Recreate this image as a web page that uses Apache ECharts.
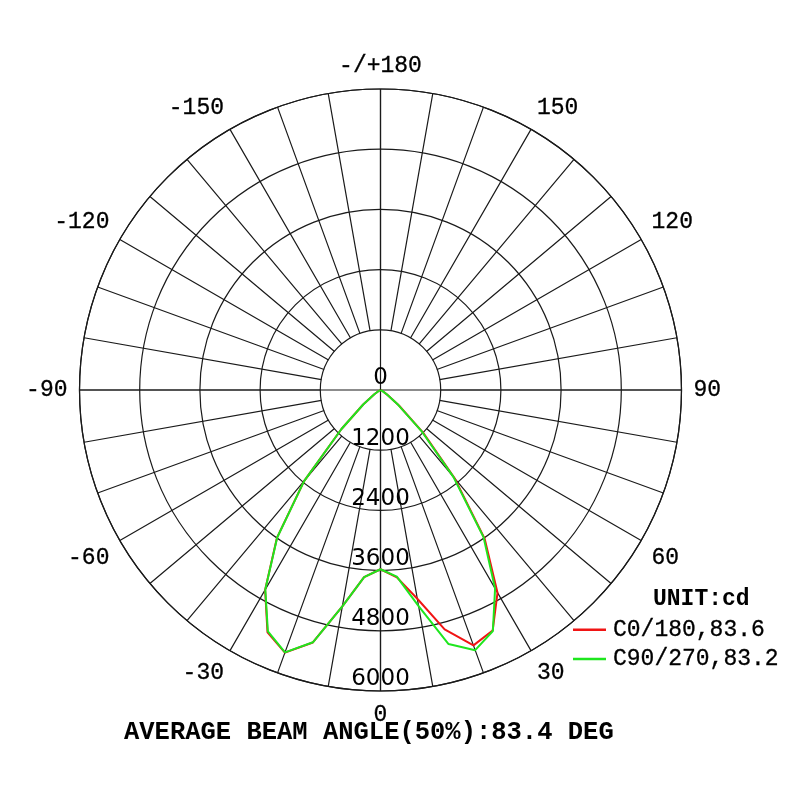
<!DOCTYPE html>
<html>
<head>
<meta charset="utf-8">
<script src="https://cdn.jsdelivr.net/npm/echarts@6/dist/echarts.min.js"></script>
<style>html,body{margin:0;padding:0;background:#fff}#c{width:800px;height:800px}</style>
</head>
<body>
<div id="c"></div>
<script>
// gamma angles (deg from nadir)
const gammaAngles = [0, 5, 10, 15, 20, 25, 30, 35, 40, 45, 50, 55, 60, 65, 70, 75, 80, 85, 90];
// intensities (cd)
const c0   = [3573, 3749, 4226, 4939, 5418, 5290, 4665, 3620, 2300, 1200, 480, 160, 60, 25, 10, 5, 2, 1, 0];
const c180 = [3573, 3746, 4380, 5210, 5570, 5330, 4600, 3600, 2370, 1100, 450, 150, 50, 20, 10, 5, 2, 1, 0];
const c90  = [3573, 3733, 4373, 5242, 5519, 5300, 4568, 3580, 2260, 1150, 460, 150, 55, 20, 10, 5, 2, 1, 0];
const c270 = [3573, 3746, 4380, 5206, 5566, 5311, 4593, 3590, 2370, 1100, 450, 150, 50, 20, 10, 5, 2, 1, 0];
// radial scale
const radialMin = 0, radialMax = 6000, radialStep = 1200;
// names / texts
const seriesNames = ['C0/180,83.6', 'C90/270,83.2'];
const unitText = 'UNIT:cd';
const beamTitle = 'AVERAGE BEAM ANGLE(50%):83.4 DEG';

// left half (C180 / C270) drawn at 360 - gamma, right half (C0 / C90) at gamma
function planeData(leftVals, rightVals) {
  const out = [];
  for (let i = gammaAngles.length - 1; i >= 0; i--) out.push([leftVals[i], 360 - gammaAngles[i]]);
  for (let i = 0; i < gammaAngles.length; i++) out.push([rightVals[i], gammaAngles[i]]);
  return out;
}

const CX = 380.5, CY = 390, R = 301;
const mono = "'Liberation Mono', 'DejaVu Sans Mono', monospace";
const gridLine = { color: '#1a1a1a', width: 1.2 };
const angleBase = { type: 'value', min: 0, max: 360, startAngle: 270, clockwise: false };

const chart = echarts.init(document.getElementById('c'), null, { renderer: 'canvas' });
chart.setOption({
  animation: false,
  backgroundColor: '#fff',
  title: [
    { text: unitText, left: 653, top: 588, padding: 0,
      textStyle: { fontFamily: mono, fontWeight: 'bold', fontSize: 23, color: '#000' } },
    { text: beamTitle, left: 124, top: 720, padding: 0,
      textStyle: { fontFamily: mono, fontWeight: 'bold', fontSize: 25.5, color: '#000' } }
  ],
  legend: {
    orient: 'vertical', left: 573, top: 618, itemGap: 6, padding: 0,
    icon: 'rect', itemWidth: 33, itemHeight: 2.5, selectedMode: false,
    data: seriesNames,
    textStyle: { fontFamily: mono, fontSize: 23, color: '#000', padding: [0, 0, 0, 2],
      textBorderColor: '#000', textBorderWidth: 0.3 }
  },
  polar: [
    { center: [CX, CY], radius: [0, R] },
    { center: [CX, CY], radius: [60, R] },
    { center: [CX, CY], radius: [0, R] }
  ],
  angleAxis: [
    Object.assign({ polarIndex: 0, interval: 30,
      axisLine: { show: true, lineStyle: gridLine }, axisTick: { show: false }, splitLine: { show: false },
      axisLabel: { show: true, margin: 12, fontFamily: mono, fontSize: 23, color: '#000',
        textBorderColor: '#000', textBorderWidth: 0.3,
        formatter: v => (v === 180 ? '-/+180' : String(v > 180 ? v - 360 : v)) } }, angleBase),
    Object.assign({ polarIndex: 1, interval: 10,
      axisLine: { show: false }, axisTick: { show: false }, axisLabel: { show: false },
      splitLine: { show: true, lineStyle: gridLine } }, angleBase),
    Object.assign({ polarIndex: 2, interval: 90,
      axisLine: { show: false }, axisTick: { show: false }, axisLabel: { show: false },
      splitLine: { show: true, lineStyle: gridLine } }, angleBase)
  ],
  radiusAxis: [
    { polarIndex: 0, type: 'value', min: radialMin, max: radialMax, interval: radialStep,
      axisLine: { show: false }, axisTick: { show: false },
      splitLine: { show: true, lineStyle: gridLine },
      axisLabel: { show: true, margin: 0, align: 'center', verticalAlign: 'bottom', rotate: 0,
        fontFamily: "'DejaVu Sans', sans-serif", fontSize: 23, color: '#000',
        formatter: v => String(v) } },
    { polarIndex: 1, type: 'value', min: 0, max: 1, show: false },
    { polarIndex: 2, type: 'value', min: 0, max: 1, show: false }
  ],
  series: [
    { name: seriesNames[0], type: 'line', coordinateSystem: 'polar', polarIndex: 0,
      data: planeData(c180, c0), showSymbol: false, symbol: 'none', color: '#f01414',
      lineStyle: { width: 2, color: '#f01414' }, z: 5 },
    { name: seriesNames[1], type: 'line', coordinateSystem: 'polar', polarIndex: 0,
      data: planeData(c270, c90), showSymbol: false, symbol: 'none', color: '#1ee61e',
      lineStyle: { width: 2, color: '#1ee61e' }, z: 6 }
  ]
});
</script>
</body>
</html>
